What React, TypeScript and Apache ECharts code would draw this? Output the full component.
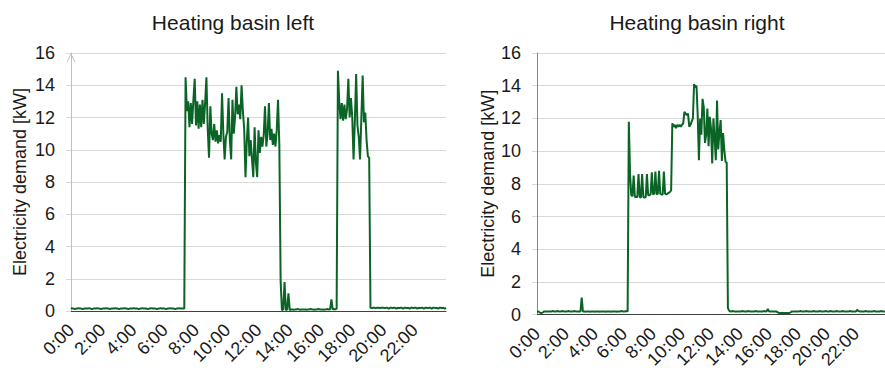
import React, { useEffect, useRef } from 'react';
import * as echarts from 'echarts';

// 5-minute samples from 0:00 to 24:00 (289 points)
const timeLabels: string[] = [];
for (let i = 0; i <= 288; i++) {
  timeLabels.push(`${Math.floor(i / 12)}:${String((i % 12) * 5).padStart(2, '0')}`);
}

const titleLeft = 'Heating basin left';
const titleRight = 'Heating basin right';
const yAxisTitle = 'Electricity demand [kW]';

// Heating basin left [kW], one row per hour (12 x 5 min)
const leftValues: number[] = [
  0.2, 0.15, 0.15, 0.12, 0.15, 0.15, 0.18, 0.15, 0.15, 0.12, 0.15, 0.15,
  0.15, 0.15, 0.18, 0.15, 0.12, 0.15, 0.15, 0.15, 0.18, 0.15, 0.15, 0.12,
  0.15, 0.15, 0.15, 0.18, 0.15, 0.15, 0.12, 0.15, 0.15, 0.15, 0.18, 0.15,
  0.15, 0.12, 0.15, 0.15, 0.15, 0.18, 0.15, 0.15, 0.12, 0.15, 0.15, 0.15,
  0.18, 0.15, 0.15, 0.15, 0.12, 0.15, 0.15, 0.18, 0.15, 0.15, 0.15, 0.12,
  0.15, 0.15, 0.18, 0.15, 0.15, 0.15, 0.12, 0.15, 0.15, 0.18, 0.15, 0.15,
  0.15, 0.12, 0.15, 0.15, 0.18, 0.15, 0.15, 0.15, 0.12, 0.15, 0.15, 0.18,
  0.15, 0.15, 0.15, 0.15, 14.5, 12.4, 13.0, 11.4, 12.9, 11.6, 13.1, 14.4,
  11.5, 13.0, 11.3, 12.8, 11.4, 13.1, 11.6, 12.9, 14.5, 11.3, 9.5, 12.7,
  11.0, 10.6, 11.6, 10.5, 11.2, 10.4, 10.9, 10.5, 13.5, 11.0, 9.4, 10.8,
  11.1, 13.2, 10.6, 9.4, 13.1, 11.0, 12.0, 13.9, 12.2, 12.8, 11.9, 14.0,
  12.4, 11.3, 8.3, 10.5, 12.0, 9.6, 10.6, 9.4, 8.3, 11.4, 9.2, 8.3,
  11.2, 9.8, 10.8, 10.2, 10.9, 12.7, 10.2, 11.0, 12.9, 10.6, 11.3, 10.3,
  11.0, 10.2, 11.2, 13.1, 10.3, 1.85, 0.05, 0.1, 1.8, 0.05, 0.1, 1.1,
  0.05, 0.1, 0.1, 0.08, 0.1, 0.1, 0.12, 0.1, 0.08, 0.1, 0.1, 0.1,
  0.1, 0.08, 0.1, 0.1, 0.12, 0.1, 0.1, 0.08, 0.1, 0.1, 0.12, 0.1,
  0.1, 0.1, 0.08, 0.1, 0.1, 0.12, 0.1, 0.1, 0.72, 0.1, 0.12, 0.1,
  0.15, 14.9, 13.0, 11.9, 12.9, 11.8, 12.8, 11.9, 12.5, 14.4, 12.0, 13.2,
  12.0, 9.4, 11.8, 14.7, 11.5, 10.8, 9.4, 12.0, 14.6, 11.7, 12.3, 10.6,
  9.6, 9.5, 0.2, 0.18, 0.2, 0.2, 0.18, 0.2, 0.2, 0.18, 0.2, 0.2,
  0.2, 0.18, 0.2, 0.2, 0.15, 0.2, 0.2, 0.18, 0.2, 0.2, 0.15, 0.2,
  0.18, 0.2, 0.2, 0.15, 0.2, 0.2, 0.18, 0.2, 0.15, 0.2, 0.2, 0.18,
  0.2, 0.2, 0.15, 0.2, 0.18, 0.2, 0.2, 0.15, 0.2, 0.2, 0.18, 0.2,
  0.2, 0.15, 0.2, 0.2, 0.18, 0.2, 0.15, 0.2, 0.2, 0.18, 0.2, 0.15,
  0.2,
];

// Heating basin right [kW]
const rightValues: number[] = [
  0.2, 0.2, 0.15, 0.1, 0.1, 0.15, 0.2, 0.2, 0.2, 0.2, 0.2, 0.2,
  0.2, 0.22, 0.2, 0.2, 0.2, 0.22, 0.2, 0.2, 0.2, 0.22, 0.2, 0.2,
  0.2, 0.2, 0.22, 0.2, 0.2, 0.2, 0.2, 0.22, 0.2, 0.2, 0.2, 0.2,
  0.2, 1.05, 0.2, 0.2, 0.18, 0.2, 0.2, 0.2, 0.18, 0.2, 0.2, 0.2,
  0.18, 0.2, 0.2, 0.2, 0.18, 0.2, 0.2, 0.2, 0.2, 0.18, 0.2, 0.2,
  0.2, 0.18, 0.2, 0.2, 0.2, 0.2, 0.18, 0.2, 0.2, 0.2, 0.22, 0.2,
  0.2, 0.2, 0.22, 0.2, 11.8, 8.6, 7.3, 7.25, 8.5, 7.2, 7.2, 7.2,
  8.6, 7.2, 7.15, 8.6, 7.2, 7.15, 7.2, 8.6, 7.3, 7.3, 7.35, 8.7,
  7.35, 7.4, 8.75, 7.35, 7.4, 8.8, 7.4, 7.35, 7.35, 8.75, 7.4, 7.35,
  7.4, 7.45, 7.5, 7.6, 11.7, 11.5, 11.6, 11.4, 11.6, 11.5, 11.6, 11.5,
  11.6, 11.7, 12.4, 12.3, 12.2, 12.3, 11.5, 11.6, 11.8, 12.0, 14.1, 13.9,
  14.0, 12.2, 9.45, 12.0, 11.0, 13.2, 12.7, 10.5, 11.0, 12.6, 10.3, 12.1,
  11.4, 9.25, 12.0, 10.8, 9.45, 13.1, 10.1, 11.2, 11.9, 9.4, 11.1, 10.1,
  9.35, 9.3, 0.4, 0.25, 0.2, 0.2, 0.22, 0.2, 0.2, 0.2, 0.2, 0.2,
  0.2, 0.2, 0.22, 0.2, 0.2, 0.2, 0.2, 0.22, 0.2, 0.2, 0.2, 0.2,
  0.2, 0.22, 0.2, 0.2, 0.2, 0.2, 0.2, 0.2, 0.22, 0.2, 0.2, 0.35,
  0.2, 0.2, 0.2, 0.2, 0.2, 0.2, 0.2, 0.15, 0.12, 0.1, 0.1, 0.1,
  0.1, 0.1, 0.1, 0.1, 0.1, 0.1, 0.15, 0.2, 0.2, 0.2, 0.2, 0.2,
  0.2, 0.2, 0.22, 0.2, 0.2, 0.2, 0.2, 0.22, 0.2, 0.2, 0.2, 0.2,
  0.2, 0.22, 0.2, 0.2, 0.2, 0.2, 0.22, 0.2, 0.2, 0.2, 0.2, 0.22,
  0.2, 0.2, 0.2, 0.22, 0.2, 0.2, 0.2, 0.2, 0.22, 0.2, 0.2, 0.2,
  0.2, 0.22, 0.2, 0.2, 0.2, 0.2, 0.2, 0.22, 0.2, 0.2, 0.2, 0.2,
  0.2, 0.3, 0.22, 0.2, 0.2, 0.2, 0.2, 0.2, 0.22, 0.2, 0.2, 0.2,
  0.2, 0.2, 0.2, 0.22, 0.2, 0.2, 0.2, 0.2, 0.2, 0.22, 0.2, 0.2,
  0.2,
];

const yMin = 0;
const yMax = 16;
const yStep = 2;

const FONT = "'Liberation Sans', Arial, Helvetica, sans-serif";
const TEXT = '#1a1a1a';
const GREEN = '#0a6425';
const GRID_LINE = '#d9d9d9';

const openArrow = 'path://M0,10 L5,0 L10,10 L8.9,10 L5,2.3 L1.1,10 Z';

function makeXAxis(gridIndex: number) {
  return {
    type: 'category',
    gridIndex,
    data: timeLabels,
    boundaryGap: false,
    axisLine: { show: true, lineStyle: { color: '#404040', width: 1 } },
    axisTick: { show: false },
    axisLabel: {
      interval: (index: number) => index % 24 === 0 && index < 288,
      rotate: 45,
      margin: 16,
      fontSize: 18,
      color: TEXT,
      fontFamily: FONT,
    },
    splitLine: { show: false },
  };
}

function makeYAxis(gridIndex: number, lineColor: string, withArrow: boolean, nameGap: number) {
  return {
    type: 'value',
    gridIndex,
    min: yMin,
    max: yMax,
    interval: yStep,
    name: yAxisTitle,
    nameLocation: 'middle',
    nameGap,
    nameTextStyle: { fontSize: 18, color: TEXT, fontFamily: FONT },
    axisLine: {
      show: true,
      lineStyle: { color: lineColor, width: 1 },
      symbol: withArrow ? ['none', openArrow] : ['none', 'none'],
      symbolSize: [10, 9],
      symbolOffset: [0, -4.5],
    },
    axisTick: { show: true, length: 5, lineStyle: { color: GRID_LINE } },
    axisLabel: { margin: 16, fontSize: 18, color: TEXT, fontFamily: FONT },
    splitLine: { show: true, lineStyle: { color: GRID_LINE, width: 1 } },
  };
}

export default function App() {
  const ref = useRef<HTMLDivElement>(null);

  useEffect(() => {
    if (!ref.current) return;
    const chart = echarts.init(ref.current, undefined, { renderer: 'svg' });
    const titleStyle = { fontSize: 21, fontWeight: 'normal', color: TEXT, fontFamily: FONT };
    chart.setOption({
      animation: false,
      backgroundColor: '#ffffff',
      textStyle: { fontFamily: FONT },
      title: [
        { text: titleLeft, left: 233, top: 12, textAlign: 'center', padding: 0, textStyle: titleStyle },
        { text: titleRight, left: 697, top: 12, textAlign: 'center', padding: 0, textStyle: titleStyle },
      ],
      grid: [
        { left: 71, top: 53, width: 375, height: 258, containLabel: false },
        { left: 537, top: 53, width: 352, height: 262, containLabel: false },
      ],
      xAxis: [makeXAxis(0), makeXAxis(1)],
      yAxis: [makeYAxis(0, '#bfbfbf', true, 42), makeYAxis(1, '#868686', false, 30)],
      series: [
        {
          type: 'line',
          xAxisIndex: 0,
          yAxisIndex: 0,
          data: leftValues,
          showSymbol: false,
          lineStyle: { color: GREEN, width: 2 },
          itemStyle: { color: GREEN },
        },
        {
          type: 'line',
          xAxisIndex: 1,
          yAxisIndex: 1,
          data: rightValues,
          showSymbol: false,
          lineStyle: { color: GREEN, width: 2 },
          itemStyle: { color: GREEN },
        },
      ],
    });
    return () => chart.dispose();
  }, []);

  return (
    <div
      ref={ref}
      style={{ position: 'absolute', left: 0, top: 0, width: 885, height: 371, background: '#fff' }}
    />
  );
}
